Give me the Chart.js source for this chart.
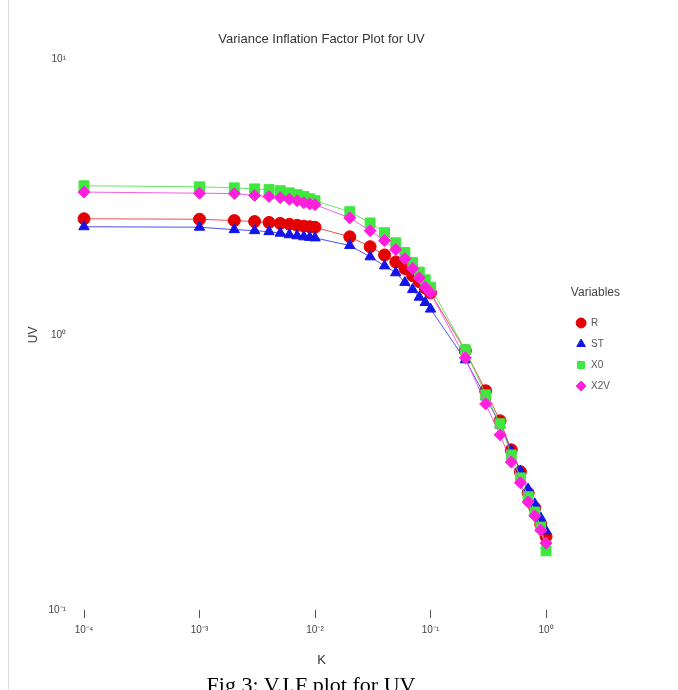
<!DOCTYPE html>
<html>
<head>
<meta charset="utf-8">
<script src="https://cdn.jsdelivr.net/npm/chart.js@4.4.0/dist/chart.umd.min.js"></script>
<style>
  html, body { margin: 0; padding: 0; background: #fff; }
  #wrap { position: relative; width: 678px; height: 690px; overflow: hidden; }
  #frame { position: absolute; left: 8px; top: 0; width: 1px; height: 690px; background: #dcdcdc; }
  #caption { position: absolute; left: 0; width: 622px; top: 672px; text-align: center;
             font-family: "Liberation Serif", "Times New Roman", serif; font-size: 22px; color: #000; }
</style>
</head>
<body>
<div id="wrap">
  <canvas id="vifChart" width="678" height="690"></canvas>
  <div id="frame"></div>
  <div id="caption">Fig 3: V.I.F plot for UV</div>
</div>
<script>
// ridge parameter K
var kValues = [0.0001, 0.001, 0.002, 0.003, 0.004, 0.005, 0.006, 0.007, 0.008, 0.009,
               0.01, 0.02, 0.03, 0.04, 0.05, 0.06, 0.07, 0.08, 0.09,
               0.1, 0.2, 0.3, 0.4, 0.5, 0.6, 0.7, 0.8, 0.9, 1.0];

var rValues   = [2.64, 2.63, 2.60, 2.58, 2.56, 2.54, 2.52, 2.50, 2.48, 2.47,
                 2.46, 2.27, 2.09, 1.95, 1.84, 1.74, 1.64, 1.56, 1.48,
                 1.42, 0.875, 0.626, 0.487, 0.382, 0.318, 0.266, 0.235, 0.205, 0.185];
var stValues  = [2.47, 2.46, 2.41, 2.39, 2.37, 2.34, 2.31, 2.29, 2.27, 2.26,
                 2.25, 2.11, 1.92, 1.78, 1.68, 1.55, 1.46, 1.37, 1.31,
                 1.24, 0.811, 0.595, 0.471, 0.379, 0.320, 0.275, 0.243, 0.216, 0.194];
var x0Values  = [3.48, 3.45, 3.42, 3.39, 3.37, 3.34, 3.28, 3.23, 3.18, 3.12,
                 3.07, 2.80, 2.55, 2.35, 2.16, 1.99, 1.83, 1.69, 1.585,
                 1.49, 0.882, 0.605, 0.475, 0.366, 0.302, 0.258, 0.227, 0.200, 0.164];
var x2vValues = [3.30, 3.27, 3.26, 3.21, 3.18, 3.15, 3.11, 3.07, 3.02, 2.99,
                 2.97, 2.66, 2.39, 2.20, 2.04, 1.89, 1.74, 1.61, 1.49,
                 1.42, 0.825, 0.561, 0.433, 0.345, 0.290, 0.247, 0.220, 0.195, 0.175];

var seriesNames = ['R', 'ST', 'X0', 'X2V'];

var xTicks = [0.0001, 0.001, 0.01, 0.1, 1];
var xTickLabels = ['10\u207B\u2074', '10\u207B\u00B3', '10\u207B\u00B2', '10\u207B\u00B9', '10\u2070'];
var yTicks = [0.1, 1, 10];
var yTickLabels = ['10\u207B\u00B9', '10\u2070', '10\u00B9'];

function toPoints(vals) {
    return kValues.map(function (k, i) { return { x: k, y: vals[i] }; });
}

var font = '"Liberation Sans", Arial, sans-serif';

window.onload = function () {
    var ctx = document.getElementById('vifChart').getContext('2d');
    new Chart(ctx, {
        type: 'line',
        data: {
            datasets: [{
                label: seriesNames[0],
                data: toPoints(rValues),
                borderColor: 'rgba(235, 60, 60, 0.9)',
                backgroundColor: '#e30000',
                pointBackgroundColor: '#e30000',
                pointBorderColor: '#e30000',
                pointStyle: 'circle',
                pointRadius: 6,
                order: 4
            }, {
                label: seriesNames[1],
                data: toPoints(stValues),
                borderColor: 'rgba(60, 60, 245, 0.9)',
                backgroundColor: '#1414e6',
                pointBackgroundColor: '#1414e6',
                pointBorderColor: '#1414e6',
                pointStyle: 'triangle',
                pointRadius: 6,
                order: 3
            }, {
                label: seriesNames[2],
                data: toPoints(x0Values),
                borderColor: 'rgba(90, 225, 90, 0.9)',
                backgroundColor: '#3ee83e',
                pointBackgroundColor: '#3ee83e',
                pointBorderColor: '#3ee83e',
                pointStyle: 'rect',
                pointRadius: 7,
                order: 2
            }, {
                label: seriesNames[3],
                data: toPoints(x2vValues),
                borderColor: 'rgba(240, 80, 225, 0.9)',
                backgroundColor: '#ff1fdc',
                pointBackgroundColor: '#ff1fdc',
                pointBorderColor: '#ff1fdc',
                pointStyle: 'rectRot',
                pointRadius: 6,
                order: 1
            }]
        },
        options: {
            responsive: false,
            animation: false,
            clip: false,
            datasets: { line: { borderWidth: 1, tension: 0, pointBorderWidth: 1, clip: false } },
            layout: { padding: { left: 10, top: 32, right: 58, bottom: 0 } },
            plugins: {
                tooltip: { enabled: false },
                title: {
                    display: true,
                    text: 'Variance Inflation Factor Plot for UV',
                    fullSize: false,
                    color: '#333',
                    font: { family: font, size: 13, weight: 'normal' },
                    padding: { top: 0, bottom: 12 }
                },
                legend: {
                    position: 'right',
                    fullSize: false,
                    title: {
                        display: true,
                        text: 'Variables',
                        position: 'end',
                        color: '#444',
                        font: { family: font, size: 12 },
                        padding: { top: 19, bottom: 6 }
                    },
                    labels: {
                        usePointStyle: true,
                        boxWidth: 10,
                        boxHeight: 7,
                        padding: 11,
                        color: '#555',
                        font: { family: font, size: 10 },
                        sort: function (a, b) { return a.datasetIndex - b.datasetIndex; }
                    }
                }
            },
            scales: {
                x: {
                    type: 'logarithmic',
                    min: Math.pow(10, -4.052),
                    max: Math.pow(10, 0.165),
                    afterBuildTicks: function (scale) {
                        scale.ticks = xTicks.map(function (v) { return { value: v }; });
                    },
                    afterFit: function (scale) { scale.height = 80; },
                    grid: { drawOnChartArea: false, drawTicks: true, tickLength: 8, color: '#555' },
                    border: { display: false },
                    ticks: {
                        padding: 6,
                        color: '#444',
                        font: { family: font, size: 10 },
                        maxRotation: 0,
                        autoSkip: false,
                        callback: function (v) {
                            var i = xTicks.indexOf(v);
                            return i >= 0 ? xTickLabels[i] : '';
                        }
                    },
                    title: {
                        display: true,
                        text: 'K',
                        color: '#333',
                        font: { family: font, size: 13 },
                        padding: { top: 22, bottom: 22 }
                    }
                },
                y: {
                    type: 'logarithmic',
                    min: 0.1,
                    max: 10,
                    afterBuildTicks: function (scale) {
                        scale.ticks = yTicks.map(function (v) { return { value: v }; });
                    },
                    afterFit: function (scale) { scale.width = 68; },
                    grid: { display: false },
                    border: { display: false },
                    ticks: {
                        padding: 4,
                        color: '#444',
                        font: { family: font, size: 10 },
                        autoSkip: false,
                        callback: function (v) {
                            var i = yTicks.indexOf(v);
                            return i >= 0 ? yTickLabels[i] : '';
                        }
                    },
                    title: {
                        display: true,
                        text: 'UV',
                        color: '#333',
                        font: { family: font, size: 12 },
                        padding: { top: 16, bottom: 16 }
                    }
                }
            }
        }
    });
};
</script>
</body>
</html>
